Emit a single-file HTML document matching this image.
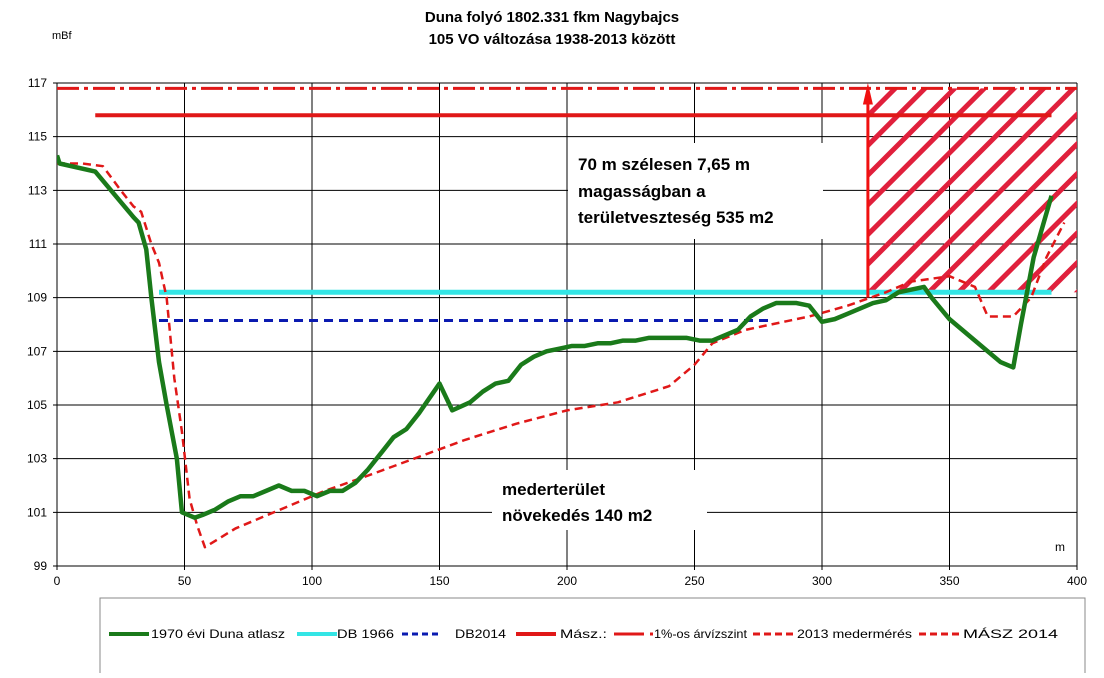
<!DOCTYPE html>
<html><head><meta charset="utf-8"><style>
body{margin:0;background:#fff;width:1104px;height:673px;overflow:hidden;font-family:"Liberation Sans",sans-serif}
svg text{font-family:"Liberation Sans",sans-serif}
</style></head><body>
<svg id="chart" width="1104" height="673">
<defs>
<pattern id="hatch" patternUnits="userSpaceOnUse" width="21" height="21" patternTransform="rotate(45)">
<rect x="0" y="0" width="5" height="21" fill="#e0203c"/>
</pattern>
<clipPath id="plotclip"><rect x="57" y="83" width="1020" height="483"/></clipPath>
</defs>
<text x="552" y="22" text-anchor="middle" font-size="15" font-weight="bold">Duna folyó 1802.331 fkm Nagybajcs</text>
<text x="552" y="44" text-anchor="middle" font-size="15" font-weight="bold">105 VO változása 1938-2013 között</text>
<text x="52" y="39" font-size="11">mBf</text>
<text x="1055" y="551" font-size="12">m</text>
<g id="grid"></g>
<g id="series" clip-path="url(#plotclip)"></g>
<rect x="568" y="143" width="255" height="96" fill="#fff"/>
<text font-size="17" font-weight="bold"><tspan x="578" y="170">70 m szélesen 7,65 m</tspan><tspan x="578" y="197">magasságban a</tspan><tspan x="578" y="223">területveszteség 535 m2</tspan></text>
<rect x="492" y="470" width="215" height="60" fill="#fff"/>
<text font-size="17" font-weight="bold"><tspan x="502" y="495">mederterület</tspan><tspan x="502" y="521">növekedés 140 m2</tspan></text>
<rect x="100" y="598" width="985" height="80" fill="#fff" stroke="#888"/>
<g id="legend" font-size="12"></g>
</svg>
<script>
const xTicks=[0,50,100,150,200,250,300,350,400];
const yTicks=[99,101,103,105,107,109,111,113,115,117];
const greenX=[0,1,15,30,32,35,37,40,43,47,49,54,57,62,67,72,77,82,87,92,97,102,107,112,117,122,127,132,137,142,150,155,162,167,172,177,182,187,192,197,202,207,212,217,222,227,232,237,247,252,257,262,267,272,277,282,290,295,300,305,310,315,320,325,330,340,343,350,360,370,375,378,383,390];
const greenY=[114.3,114.0,113.7,112.0,111.8,110.8,109,106.6,105.0,103.0,101.0,100.8,100.9,101.1,101.4,101.6,101.6,101.8,102.0,101.8,101.8,101.6,101.8,101.8,102.1,102.6,103.2,103.8,104.1,104.7,105.8,104.8,105.1,105.5,105.8,105.9,106.5,106.8,107.0,107.1,107.2,107.2,107.3,107.3,107.4,107.4,107.5,107.5,107.5,107.4,107.4,107.6,107.8,108.3,108.6,108.8,108.8,108.7,108.1,108.2,108.4,108.6,108.8,108.9,109.2,109.4,109.0,108.2,107.4,106.6,106.4,108.0,110.5,112.8];
const redX=[0,10,18,25,30,33,37,40,43,46,49,52,55,58,70,90,105,120,140,160,180,200,220,240,250,257,270,280,295,310,325,335,350,360,365,375,382,388,395];
const redY=[114.0,114.0,113.9,113.0,112.4,112.2,111.0,110.3,109.0,106.0,104.0,101.5,100.5,99.7,100.4,101.2,101.8,102.3,103.0,103.7,104.3,104.8,105.1,105.7,106.5,107.3,107.8,108.0,108.3,108.7,109.2,109.6,109.8,109.4,108.3,108.3,109.0,110.5,111.8];
const db1966=[40,390,109.2];
const db2014=[40,280,108.15];
const masz=[15,390,115.8];
const flood=[0,400,116.8];
const lossArea=[318,400,109.2,116.8];
const X=v=>57+(v/400)*1020;
const Y=v=>566-(v-99)/18*483;
const NS="http://www.w3.org/2000/svg";
function mk(tag,attrs,parent){const e=document.createElementNS(NS,tag);for(const k in attrs)e.setAttribute(k,attrs[k]);parent.appendChild(e);return e;}
const grid=document.getElementById('grid'),ser=document.getElementById('series'),leg=document.getElementById('legend');
xTicks.forEach(t=>{
 const l=mk('line',{x1:X(t),x2:X(t),y1:83,y2:570,stroke:'#000','stroke-width':1},grid);
 
 
 const tx=mk('text',{x:X(t),y:585,'text-anchor':'middle','font-size':12},grid);tx.textContent=t;
 
 
});
yTicks.forEach(t=>{
 const l=mk('line',{x1:53,x2:1077,y1:Y(t),y2:Y(t),stroke:'#000','stroke-width':1},grid);
 
 
 const tx=mk('text',{x:47,y:Y(t)+4,'text-anchor':'end','font-size':12},grid);tx.textContent=t;
 
 
});
const hatch=mk('rect',{x:X(lossArea[0]),y:Y(lossArea[3]),width:X(lossArea[1])-X(lossArea[0]),height:Y(lossArea[2])-Y(lossArea[3]),fill:'url(#hatch)'},ser);


function hline(a,color,w,dash,name){const l=mk('line',{x1:X(a[0]),x2:X(a[1]),y1:Y(a[2]),y2:Y(a[2]),stroke:color,'stroke-width':w},ser);if(dash)l.setAttribute('stroke-dasharray',dash);
 
 }
hline(flood,'#e01818',3,'22,5,4,5','flood-level-1pct-line');
hline(masz,'#e01818',4,null,'masz-line');
hline(db1966,'#33e5e5',5,null,'db1966-line');
hline(db2014,'#0a1ab0',3,'9,6','db2014-line');
function poly(xs,ys,color,w,dash,name){const p=mk('polyline',{points:xs.map((x,i)=>X(x)+','+Y(ys[i])).join(' '),fill:'none',stroke:color,'stroke-width':w,'stroke-linejoin':'round'},ser);if(dash)p.setAttribute('stroke-dasharray',dash);
 
 }
poly(redX,redY,'#e01818',2.5,'8,5','medermeres-2013-line');
poly(greenX,greenY,'#1a7a1a',4.5,null,'duna-atlasz-1970-line');
const ar=mk('line',{x1:X(lossArea[0]),x2:X(lossArea[0]),y1:Y(109),y2:Y(116.7),stroke:'#f01010','stroke-width':3},ser);


const ah=mk('polygon',{points:`${X(318)-5},${Y(116.2)} ${X(318)},${Y(117)} ${X(318)+5},${Y(116.2)}`,fill:'#f01010'},ser);


const items=[[109,151,'#1a7a1a',4,null,'1970 évi Duna atlasz',134],[297,337,'#33e5e5',4,null,'DB 1966',57],[402,455,'#0a1ab0',3,'6,4','DB2014',51],[516,560,'#e01818',4,null,'Mász.:',47],[614,654,'#e01818',3,'30,6,3,6','1%-os árvízszint',93],[753,797,'#e01818',3,'7,4','2013 medermérés',115],[919,963,'#e01818',3,'7,4','MÁSZ 2014',95]];
items.forEach(it=>{
 const g=mk('g',{},leg);
 
 
 const l=mk('line',{x1:it[0],x2:it[0]+40,y1:634,y2:634,stroke:it[2],'stroke-width':it[3]},g);
 if(it[4])l.setAttribute('stroke-dasharray',it[4]);
 const t=mk('text',{x:it[1],y:638,'font-size':12,textLength:it[6],lengthAdjust:'spacingAndGlyphs'},g);t.textContent=it[5];
});
</script>
</body></html>
